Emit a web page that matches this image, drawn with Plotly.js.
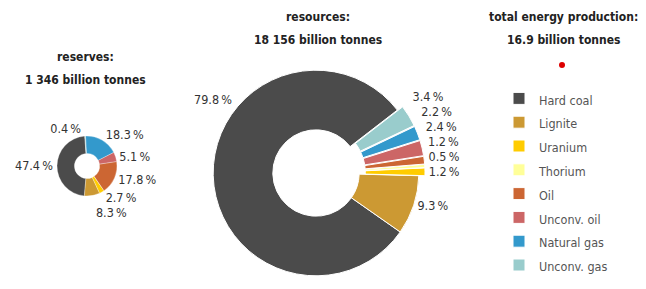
<!DOCTYPE html>
<html>
<head>
<meta charset="utf-8">
<script src="https://cdn.plot.ly/plotly-3.0.1.min.js"></script>
<style>html,body{margin:0;padding:0;background:#fff}#chart{width:646px;height:289px}</style>
</head>
<body>
<div id="chart"></div>
<script>
// ---- data ----
const categories = ['Hard coal', 'Lignite', 'Uranium', 'Thorium', 'Oil', 'Unconv. oil', 'Natural gas', 'Unconv. gas'];
const reservesShare = [47.4, 8.3, 2.7, 0, 17.8, 5.1, 18.3, 0.4];
const resourcesShare = [79.8, 9.3, 1.2, 0.5, 1.2, 2.4, 2.2, 3.4];
const productionTotal = [16.9];
const colors = ['#4b4b4b', '#cc9933', '#ffcc00', '#ffff99', '#cc6633', '#cc6666', '#3399cc', '#99cccc'];
const reservesTitle = ['reserves:', '1 346 billion tonnes'];
const resourcesTitle = ['resources:', '18 156 billion tonnes'];
const productionTitle = ['total energy production:', '16.9 billion tonnes'];

const FONT = '"DejaVu Sans Condensed", "Liberation Sans Narrow", "Arial Narrow", sans-serif';
const W = 646, H = 289;
function dom(cx, cy, side) {
  return {x: [(cx - side / 2) / W, (cx + side / 2) / W], y: [(H - cy - side / 2) / H, (H - cy + side / 2) / H]};
}
const fmtPct = v => v.toFixed(1) + '\u2009%';
const pctTpl = v => v > 0 ? '<span style="color:#333333;fill-opacity:1">%{value:.1f}\u2009%</span>' : '';
// label text is coloured through its span; the leader lines stay invisible
const hiddenLine = {family: FONT, size: 12.5, color: 'rgba(255,255,255,0)'};

const reserves = {
  type: 'pie', values: reservesShare, labels: categories, sort: false,
  direction: 'counterclockwise', rotation: -175, hole: 0.42,
  marker: {colors: colors, line: {color: '#ffffff', width: 0.3}},
  domain: dom(87, 166, 60),
  textposition: 'outside', texttemplate: reservesShare.map(pctTpl),
  outsidetextfont: hiddenLine,
  showlegend: false, hoverinfo: 'label+percent'
};
const resources = {
  type: 'pie', values: resourcesShare, labels: categories.map(c => '<span style="font-size:12.5px">' + c + '</span>'),
  sort: false, direction: 'counterclockwise', rotation: 125, hole: 0.42,
  pull: resourcesShare.map((v, i) => i < 2 ? 0 : 0.06),
  marker: {colors: colors, line: {color: '#ffffff', width: 1}},
  domain: dom(316, 173, 218),
  textposition: 'outside', texttemplate: resourcesShare.map((v, i) => i === 0 ? '' : pctTpl(v)),
  outsidetextfont: hiddenLine,
  showlegend: true, hoverinfo: 'label+percent'
};
const production = {
  type: 'pie', values: productionTotal, labels: ['total energy production'], sort: false,
  marker: {colors: ['#dd0000'], line: {width: 0}},
  domain: dom(562, 65, 6), textinfo: 'none', showlegend: false, hoverinfo: 'value'
};

function titleAnn(lines, cx, y1) {
  return lines.map((t, i) => ({
    text: '<b>' + t + '</b>', x: cx / W, y: 1 - (y1 + i * 23) / H, xref: 'paper', yref: 'paper',
    showarrow: false, xanchor: 'center', yanchor: 'middle',
    font: {family: FONT, size: 12, color: '#222222'}
  }));
}
// the hard-coal resources label sits at the upper left of the ring, as in the original
const hardCoalLabel = {
  text: fmtPct(resourcesShare[0]), x: 213 / W, y: 1 - 100 / H, xref: 'paper', yref: 'paper',
  showarrow: false, xanchor: 'center', yanchor: 'middle',
  font: {family: FONT, size: 12.5, color: '#333333'}
};

const layout = {
  width: W, height: H, margin: {l: 0, r: 0, t: 0, b: 0},
  paper_bgcolor: '#ffffff', plot_bgcolor: '#ffffff',
  font: {family: FONT, color: '#333333'},
  showlegend: true,
  legend: {x: 499 / W, xanchor: 'left', y: 1 - 81.5 / H, yanchor: 'top', traceorder: 'normal',
           font: {family: FONT, size: 16, color: '#555555'}, bgcolor: 'rgba(0,0,0,0)'},
  annotations: [].concat(titleAnn(reservesTitle, 85, 57), titleAnn(resourcesTitle, 318, 17),
                         titleAnn(productionTitle, 563, 17), [hardCoalLabel])
};

Plotly.newPlot('chart', [reserves, resources, production], layout, {displayModeBar: false, staticPlot: true});
</script>
</body>
</html>
